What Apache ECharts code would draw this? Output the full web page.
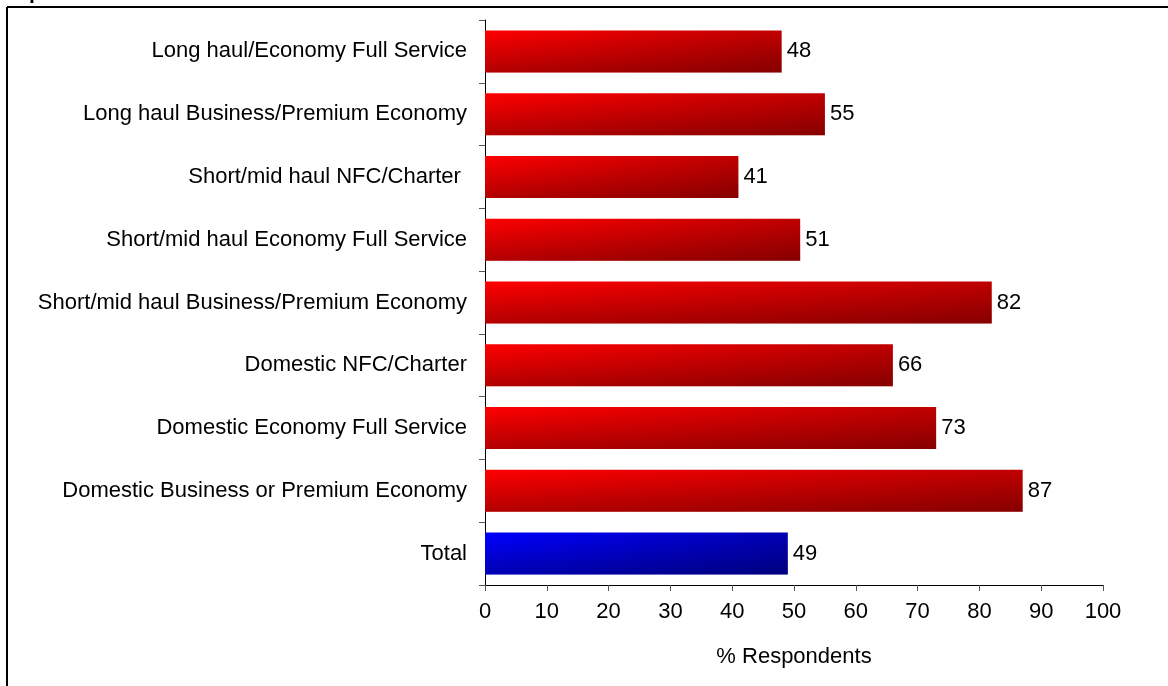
<!DOCTYPE html>
<html>
<head>
<meta charset="utf-8">
<script src="https://cdn.jsdelivr.net/npm/echarts@6/dist/echarts.min.js"></script>
<style>
  html, body { margin: 0; padding: 0; background: #fff; }
  #chart { width: 1168px; height: 686px; }
</style>
</head>
<body>
<div id="chart"></div>
<script>
// Segments, listed top to bottom
const categories = [
  'Long haul/Economy Full Service',
  'Long haul Business/Premium Economy',
  'Short/mid haul NFC/Charter ',
  'Short/mid haul Economy Full Service',
  'Short/mid haul Business/Premium Economy',
  'Domestic NFC/Charter',
  'Domestic Economy Full Service',
  'Domestic Business or Premium Economy',
  'Total'
];
const respondents = [48, 55, 41, 51, 82, 66, 73, 87, 49];
const xTicks = [0, 10, 20, 30, 40, 50, 60, 70, 80, 90, 100];

const FONT = 'Liberation Sans, Arial, sans-serif';
const FS = 22;

function hGrad(c0, c1) {
  return new echarts.graphic.LinearGradient(0, 0, 1, 0, [
    { offset: 0, color: c0 }, { offset: 1, color: c1 }
  ]);
}
const redFill = hGrad('#ff0000', '#c00000');
const blueFill = hGrad('#0000ff', '#0000b4');

// base bars with a horizontal gradient; the Total bar is blue
const baseData = respondents.map((v, i) => ({
  value: v,
  itemStyle: { color: categories[i] === 'Total' ? blueFill : redFill }
}));

// shading layer darkening toward the bottom edge of each bar
const shade = new echarts.graphic.LinearGradient(0, 0, 0, 1, [
  { offset: 0, color: 'rgba(0,0,0,0)' },
  { offset: 1, color: 'rgba(0,0,0,0.3)' }
]);

const chart = echarts.init(document.getElementById('chart'), null, { renderer: 'canvas' });
chart.setOption({
  animation: false,
  backgroundColor: '#fff',
  grid: { left: 485, right: 65, top: 20, bottom: 101, containLabel: false },
  xAxis: {
    type: 'value',
    min: 0, max: 100, interval: 10,
    name: '% Respondents',
    nameLocation: 'middle',
    nameGap: 61,
    nameTextStyle: { fontFamily: FONT, fontSize: FS, color: '#000' },
    axisLine: { show: true, lineStyle: { color: '#000', width: 1 } },
    axisTick: { show: true, length: 6, lineStyle: { color: '#555' } },
    axisLabel: {
      margin: 16, fontFamily: FONT, fontSize: FS, color: '#000',
      formatter: v => (xTicks.includes(v) ? String(v) : '')
    },
    splitLine: { show: false }
  },
  yAxis: {
    type: 'category',
    data: categories,
    inverse: true,
    axisLine: { show: true, lineStyle: { color: '#000', width: 1 } },
    axisTick: { show: true, length: 6, inside: false, lineStyle: { color: '#555' } },
    axisLabel: { margin: 18, fontFamily: FONT, fontSize: FS, color: '#000' }
  },
  series: [
    {
      type: 'bar',
      data: baseData,
      barWidth: 42,
      barGap: '-100%',
      label: {
        show: true, position: 'right', distance: 5,
        fontFamily: FONT, fontSize: FS, color: '#000'
      },
      z: 2
    },
    {
      type: 'bar',
      data: respondents,
      barWidth: 42,
      barGap: '-100%',
      silent: true,
      itemStyle: { color: shade },
      z: 3
    }
  ],
  graphic: [
    { type: 'line', shape: { x1: 7, y1: 7, x2: 1168, y2: 7 }, style: { stroke: '#000', lineWidth: 2 } },
    { type: 'line', shape: { x1: 7, y1: 7, x2: 7, y2: 686 }, style: { stroke: '#000', lineWidth: 2 } },
    {
      type: 'text', left: 22, top: -17,
      style: { text: 'quota', font: 'bold 21px ' + FONT, fill: '#000' }
    }
  ]
});
</script>
</body>
</html>
